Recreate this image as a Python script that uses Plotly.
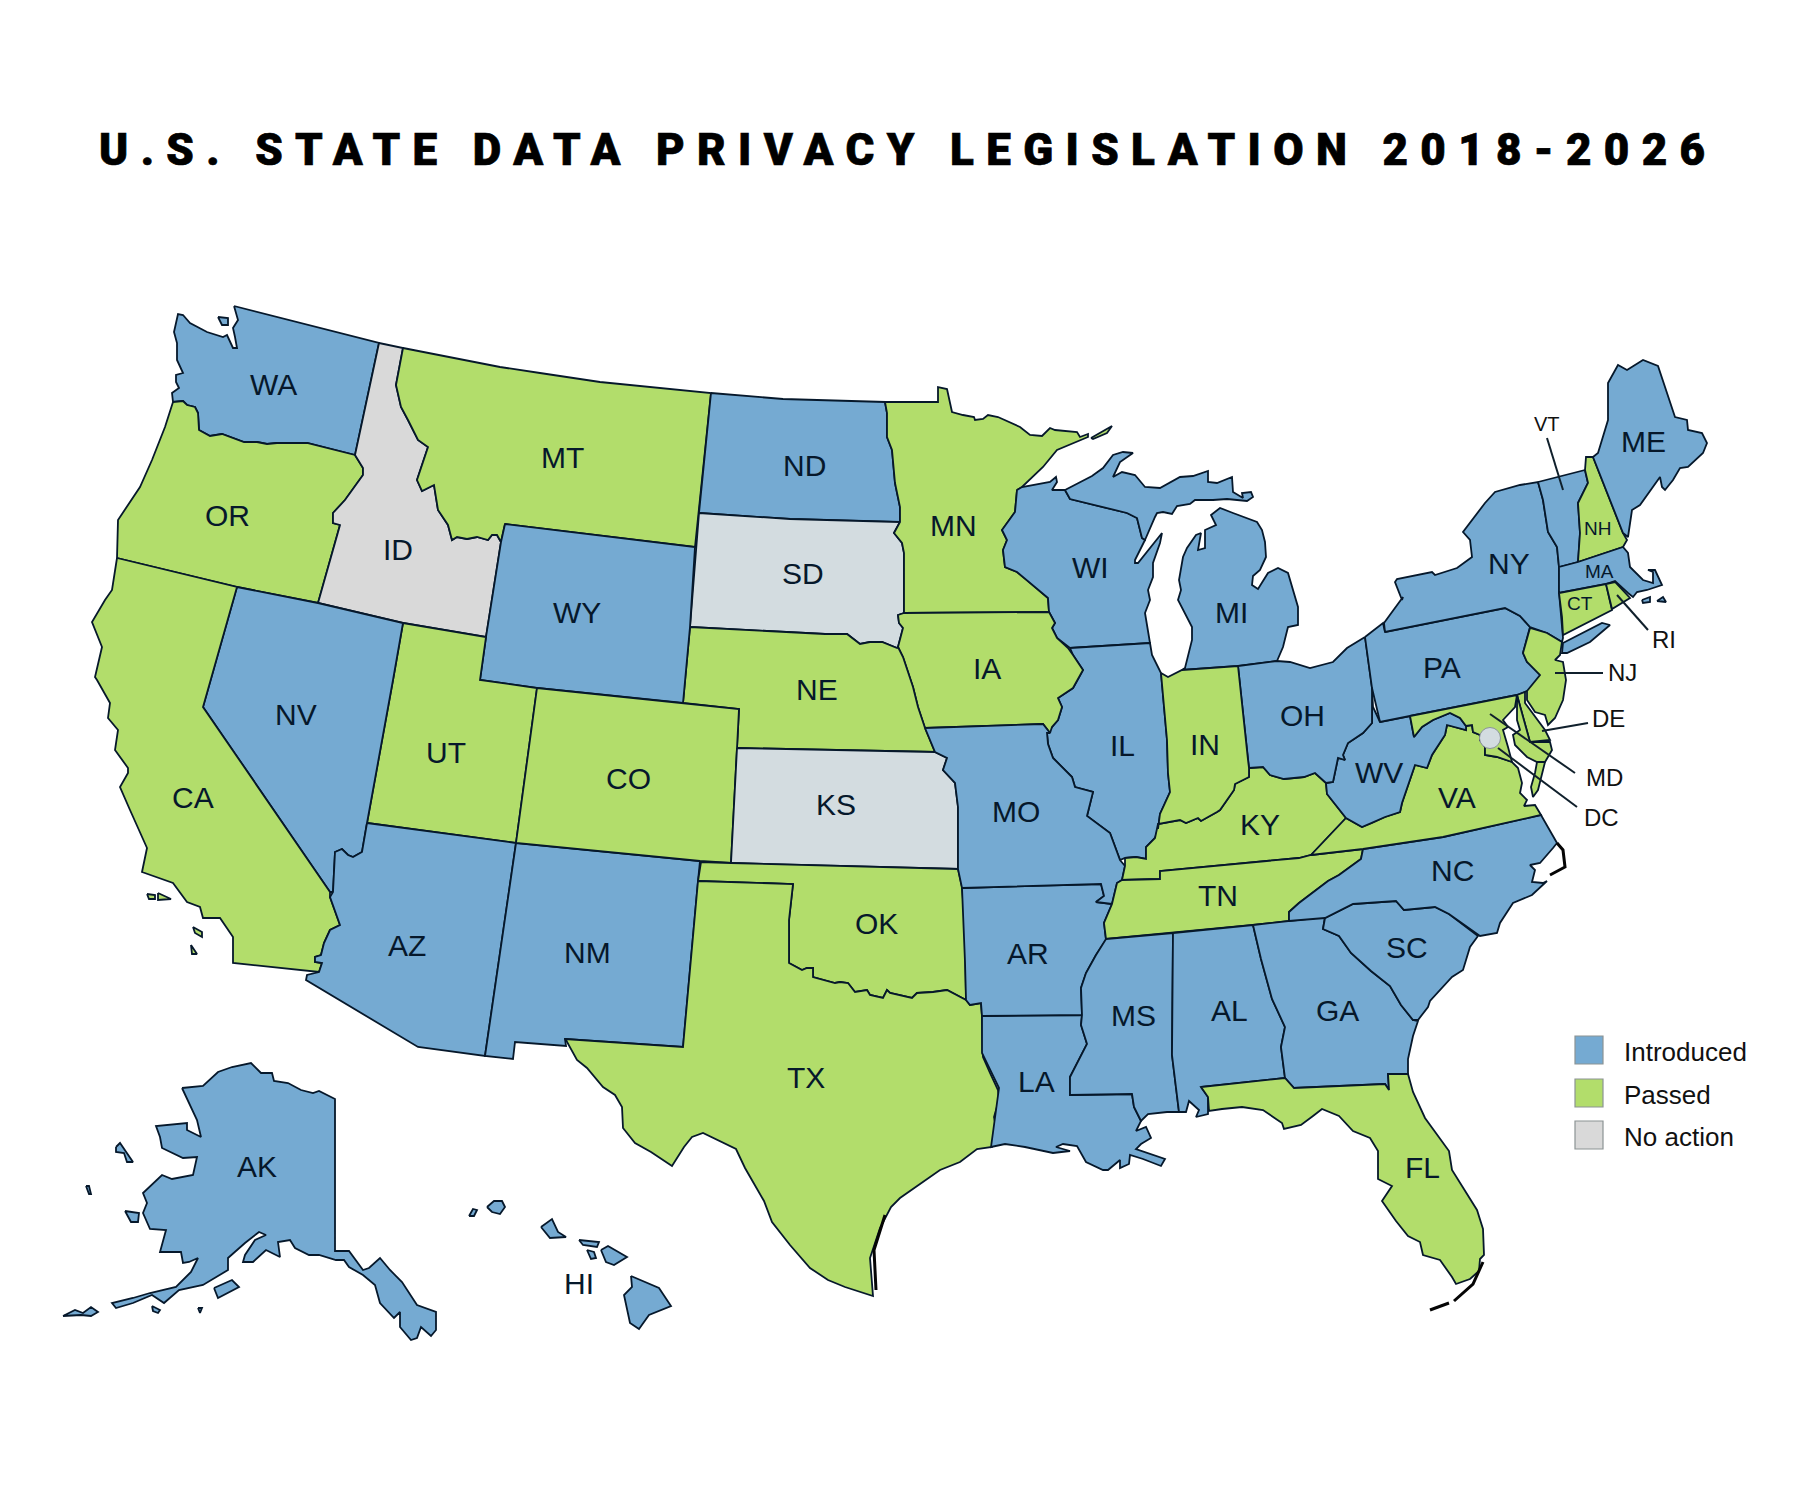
import plotly.graph_objects as go

TITLE = "U.S. STATE DATA PRIVACY LEGISLATION 2018-2026"
STATUS_NAMES = ["Introduced", "Passed", "No action"]
STATUS_COLORS = {"Introduced": "#75aad2", "Passed": "#b2dd6b", "No action": "#d9d9d9"}
ALT_GREY = "#d3dce0"
INK = "#06182b"

INTRODUCED = ["WA","NV","WY","ND","WI","MI","IL","MO","AR","LA","MS","AL","GA","SC","NC","OH","WV","PA","NY","VT","MA","ME","AZ","NM","AK","HI"]
PASSED = ["OR","CA","MT","UT","CO","NE","MN","IA","IN","KY","TN","TX","OK","FL","VA","MD","DE","NJ","CT","RI","NH"]
NO_ACTION = ["ID","SD","KS"]

# Outlines, in picture pixels
WA = [[(234,306),(379,343),(355,455),(307,443),(277,443),(267,444),(257,442),(244,442),(222,434),(210,436),(199,430),(198,413),(195,407),(187,405),(183,401),(173,402),(172,393),(179,388),(176,382),(176,375),(183,373),(177,360),(177,343),(174,332),(178,314),(183,315),(190,323),(207,332),(223,337),(227,335),(233,348),(237,348),(235,337),(233,328),(238,320)],
      [(218,317),(228,318),(228,325),(222,325)]]
OR = [[(173,402),(183,401),(187,405),(195,407),(198,413),(199,430),(210,436),(222,434),(244,442),(257,442),(267,444),(277,443),(307,443),(355,455),(363,468),(363,475),(345,500),(333,513),(333,523),(340,525),(318,603),(237,587),(117,558),(118,520),(140,487),(152,460),(165,427)]]
ID = [[(379,343),(403,348),(396,385),(401,407),(408,420),(418,440),(428,447),(417,480),(422,491),(434,485),(438,510),(448,525),(452,540),(457,537),(467,539),(477,537),(488,540),(492,535),(497,535),(501,542),(486,637),(403,623),(318,603),(340,525),(333,523),(333,513),(345,500),(363,475),(363,468),(355,455)]]
MT = [[(403,348),(500,367),(540,373),(600,382),(711,393),(695,547),(505,524),(501,542),(497,535),(492,535),(488,540),(477,537),(467,539),(457,537),(452,540),(448,525),(438,510),(434,485),(422,491),(417,480),(428,447),(418,440),(408,420),(401,407),(396,385)]]
ND = [[(711,393),(783,399),(885,402),(887,413),(887,437),(892,450),(895,483),(900,507),(900,522),(790,519),(699,513)]]
SD = [[(699,513),(790,519),(900,522),(894,533),(902,543),(904,553),(904,613),(898,615),(899,623),(903,628),(898,647),(897,648),(882,642),(870,642),(860,644),(847,634),(825,634),(690,627)]]
MN = [[(885,402),(938,402),(938,387),(947,389),(952,412),(963,415),(974,417),(975,420),(983,419),(988,415),(998,417),(1020,427),(1030,435),(1042,436),(1050,428),(1055,430),(1077,432),(1080,437),(1088,434),(1088,437),(1057,450),(1043,467),(1022,487),(1017,490),(1015,512),(1002,530),(1007,540),(1003,550),(1005,567),(1017,572),(1027,580),(1048,598),(1049,612),(904,613),(904,553),(902,543),(894,533),(900,522),(900,507),(895,483),(892,450),(887,437),(887,413)],
      [(1091,438),(1112,426),(1107,433),(1093,439)]]
WI = [[(1017,490),(1022,487),(1050,482),(1056,477),(1057,482),(1052,490),(1065,490),(1070,499),(1127,513),(1137,518),(1142,538),(1145,540),(1135,560),(1135,563),(1138,563),(1162,533),(1160,543),(1153,563),(1153,577),(1148,590),(1150,600),(1145,613),(1150,643),(1070,648),(1057,638),(1052,628),(1055,623),(1049,612),(1048,598),(1027,580),(1017,572),(1005,567),(1003,550),(1007,540),(1002,530),(1015,512)]]
MI = [[(1065,490),(1078,483),(1092,476),(1103,468),(1113,455),(1123,452),(1133,453),(1120,462),(1113,477),(1122,472),(1135,475),(1145,487),(1160,488),(1180,477),(1193,476),(1208,471),(1208,482),(1217,483),(1232,477),(1233,492),(1243,498),(1242,493),(1251,492),(1253,497),(1247,501),(1227,499),(1213,500),(1195,500),(1190,504),(1177,506),(1172,514),(1163,512),(1157,513),(1155,517),(1145,540),(1142,538),(1137,518),(1127,513),(1070,499)],
      [(1182,670),(1238,666),(1277,661),(1283,647),(1288,627),(1298,625),(1298,607),(1288,573),(1278,568),(1268,573),(1258,589),(1252,585),(1253,576),(1260,570),(1266,557),(1265,542),(1262,530),(1257,522),(1233,513),(1220,508),(1211,515),(1216,525),(1205,530),(1205,548),(1198,550),(1201,533),(1196,535),(1187,548),(1183,557),(1179,580),(1181,590),(1178,600),(1192,627),(1192,640),(1185,668)]]
IL = [[(1070,648),(1150,643),(1152,655),(1161,673),(1167,740),(1168,773),(1170,792),(1160,814),(1158,829),(1155,838),(1146,847),(1146,859),(1136,857),(1125,858),(1120,860),(1115,847),(1110,833),(1087,816),(1093,792),(1075,787),(1072,777),(1053,758),(1048,744),(1047,733),(1052,727),(1058,720),(1062,707),(1058,698),(1073,688),(1083,670),(1073,655)]]
IA = [[(904,613),(1049,612),(1055,623),(1052,628),(1057,638),(1068,648),(1073,655),(1083,670),(1073,688),(1058,698),(1062,707),(1058,720),(1052,727),(1050,733),(1043,724),(925,728),(918,707),(913,687),(903,657),(898,647),(903,628),(899,623),(898,615)]]
NE = [[(690,627),(825,634),(847,634),(860,644),(870,642),(882,642),(897,648),(898,647),(903,657),(913,687),(918,707),(925,728),(935,752),(737,748),(739,709),(683,703)]]
WY = [[(505,524),(695,547),(690,627),(683,703),(537,688),(480,680),(486,637),(501,542)]]
UT = [[(403,623),(486,637),(480,680),(537,688),(516,843),(367,823),(393,680)]]
NV = [[(237,587),(318,603),(403,623),(393,680),(367,823),(362,852),(353,857),(348,855),(342,849),(335,852),(333,892),(330,892),(203,707)]]
CA = [[(117,558),(237,587),(203,707),(330,892),(330,897),(340,925),(330,930),(324,943),(321,955),(315,957),(315,962),(322,963),(319,972),(233,963),(233,937),(220,918),(203,918),(200,907),(187,902),(173,883),(142,872),(147,848),(130,810),(120,787),(128,773),(128,768),(115,750),(118,730),(108,718),(110,703),(97,680),(95,677),(102,647),(92,622),(105,600),(112,590)],
      [(147,894),(155,895),(155,899),(149,899)],
      [(158,893),(171,899),(158,900)],
      [(193,927),(202,932),(202,937),(195,933)],
      [(191,945),(197,954),(192,954)]]
AZ = [[(367,823),(516,843),(485,1056),(418,1047),(306,980),(307,975),(319,972),(322,963),(315,962),(315,957),(321,955),(324,943),(330,930),(340,925),(330,897),(333,892),(335,852),(342,849),(348,855),(353,857),(362,852)]]
NM = [[(516,843),(700,861),(698,881),(683,1047),(565,1039),(566,1046),(515,1042),(513,1059),(485,1056)]]
CO = [[(537,688),(683,703),(739,709),(737,748),(731,863),(700,861),(516,843)]]
KS = [[(737,748),(935,752),(947,758),(943,770),(955,783),(958,807),(958,869),(731,863)]]
OK = [[(701,862),(731,863),(958,869),(962,887),(965,927),(966,1000),(947,990),(933,992),(917,993),(912,998),(890,993),(887,990),(883,998),(870,995),(867,990),(855,992),(848,983),(840,982),(835,983),(813,977),(813,968),(807,968),(802,970),(789,963),(789,920),(793,884),(698,881)]]
TX = [[(698,881),(793,884),(789,920),(789,963),(802,970),(807,968),(813,968),(813,977),(835,983),(840,982),(848,983),(855,992),(867,990),(870,995),(883,998),(887,990),(890,993),(912,998),(917,993),(933,992),(947,990),(966,1000),(970,1005),(981,1003),(982,1017),(983,1057),(990,1073),(998,1090),(999,1100),(994,1117),(996,1127),(992,1147),(977,1149),(960,1162),(940,1170),(920,1184),(900,1198),(891,1207),(880,1228),(870,1258),(873,1296),(845,1287),(828,1280),(810,1268),(790,1245),(772,1222),(764,1201),(745,1168),(736,1149),(703,1133),(692,1137),(684,1147),(672,1166),(651,1152),(635,1143),(623,1128),(622,1107),(615,1095),(603,1087),(587,1068),(577,1060),(566,1040),(565,1039),(683,1047)]]
LA = [[(982,1016),(1082,1015),(1081,1025),(1087,1044),(1070,1077),(1070,1095),(1132,1094),(1134,1107),(1141,1121),(1136,1131),(1146,1127),(1151,1138),(1141,1144),(1136,1149),(1165,1159),(1161,1166),(1143,1159),(1130,1155),(1129,1164),(1120,1168),(1120,1160),(1108,1170),(1103,1170),(1086,1162),(1077,1146),(1063,1144),(1056,1147),(1070,1151),(1053,1153),(1025,1147),(1005,1144),(991,1147),(994,1125),(999,1088),(982,1053)]]
AR = [[(962,888),(1101,884),(1104,896),(1096,902),(1112,904),(1104,923),(1106,940),(1096,955),(1086,973),(1081,988),(1082,1015),(982,1016),(981,1003),(970,1005),(966,1000),(965,962)]]
MO = [[(925,728),(1043,724),(1050,733),(1047,733),(1048,744),(1053,758),(1072,777),(1075,787),(1093,792),(1087,816),(1110,833),(1115,847),(1120,860),(1125,866),(1122,880),(1117,883),(1112,904),(1096,902),(1104,896),(1101,884),(962,888),(958,869),(958,807),(955,783),(943,770),(947,758),(935,752)]]
KY = [[(1125,858),(1136,857),(1146,859),(1146,847),(1155,838),(1158,824),(1180,820),(1186,823),(1198,818),(1201,821),(1217,812),(1220,810),(1234,790),(1235,784),(1249,777),(1249,768),(1263,767),(1270,775),(1284,779),(1304,777),(1315,773),(1326,783),(1327,794),(1346,818),(1327,838),(1311,855),(1299,858),(1160,871),(1160,879),(1122,880),(1125,866)]]
TN = [[(1122,880),(1160,879),(1160,871),(1299,858),(1311,855),(1363,849),(1361,859),(1349,868),(1339,875),(1328,881),(1299,903),(1289,912),(1289,921),(1253,925),(1173,933),(1106,939),(1104,923),(1112,904),(1117,883)]]
MS = [[(1106,939),(1173,933),(1172,1055),(1179,1112),(1167,1112),(1148,1114),(1141,1121),(1134,1107),(1132,1094),(1070,1095),(1070,1077),(1087,1044),(1081,1025),(1082,1015),(1081,988),(1086,973),(1096,955)]]
AL = [[(1173,933),(1253,925),(1261,959),(1272,999),(1285,1027),(1281,1047),(1285,1078),(1201,1087),(1208,1097),(1208,1114),(1196,1117),(1199,1110),(1189,1101),(1186,1112),(1179,1112),(1172,1055)]]
GA = [[(1253,925),(1289,921),(1325,917),(1323,929),(1339,936),(1351,953),(1371,971),(1390,986),(1401,1005),(1413,1020),(1418,1021),(1413,1036),(1408,1059),(1408,1074),(1388,1074),(1389,1090),(1385,1084),(1294,1088),(1285,1078),(1281,1047),(1285,1027),(1272,999),(1261,959)]]
SC = [[(1325,918),(1353,904),(1396,901),(1404,910),(1435,907),(1449,914),(1478,936),(1470,947),(1463,970),(1452,977),(1430,1001),(1428,1007),(1418,1020),(1413,1020),(1401,1005),(1390,986),(1371,971),(1351,953),(1339,936),(1323,929)]]
NC = [[(1363,849),(1443,837),(1541,815),(1557,843),(1553,848),(1540,863),(1530,865),(1535,870),(1532,882),(1543,883),(1547,881),(1532,895),(1513,903),(1500,923),(1497,933),(1480,936),(1449,914),(1435,907),(1404,910),(1396,901),(1353,904),(1325,918),(1289,921),(1289,912),(1299,903),(1328,881),(1339,875),(1349,868),(1361,859)]]
VA = [[(1346,818),(1362,827),(1372,823),(1385,817),(1400,812),(1402,803),(1415,765),(1427,768),(1432,755),(1445,735),(1447,725),(1466,730),(1466,726),(1472,725),(1473,732),(1480,735),(1480,740),(1485,747),(1485,755),(1497,757),(1512,762),(1518,768),(1522,783),(1520,793),(1527,800),(1524,806),(1535,805),(1541,815),(1443,837),(1363,849),(1311,855),(1327,838)],
      [(1545,762),(1540,780),(1538,790),(1533,797),(1531,787),(1535,773),(1537,762)]]
WV = [[(1380,722),(1410,716),(1414,737),(1422,727),(1433,720),(1450,713),(1460,718),(1466,726),(1466,730),(1447,725),(1445,735),(1432,755),(1427,768),(1415,765),(1402,803),(1400,812),(1385,817),(1372,823),(1362,827),(1346,818),(1327,794),(1326,783),(1333,782),(1338,758),(1345,760),(1343,755),(1348,743),(1363,733),(1372,723),(1372,688),(1373,707)]]
OH = [[(1365,637),(1347,648),(1333,662),(1310,668),(1290,662),(1277,661),(1238,666),(1248,760),(1249,768),(1263,767),(1270,775),(1284,779),(1304,777),(1315,773),(1326,783),(1333,782),(1338,758),(1345,760),(1343,755),(1348,743),(1363,733),(1372,723),(1372,688)]]
IN = [[(1161,673),(1168,677),(1182,670),(1238,666),(1248,760),(1249,768),(1249,777),(1235,784),(1234,790),(1220,810),(1217,812),(1201,821),(1198,818),(1186,823),(1180,820),(1158,824),(1158,829),(1160,814),(1170,792),(1168,773),(1167,740)]]
PA = [[(1365,637),(1383,623),(1385,632),(1505,608),(1520,616),(1530,627),(1523,653),(1527,662),(1543,673),(1537,687),(1527,691),(1517,695),(1410,716),(1380,722),(1372,688)]]
NY = [[(1385,632),(1384,623),(1403,597),(1402,600),(1395,582),(1397,579),(1432,572),(1435,575),(1457,568),(1472,557),(1470,540),(1463,532),(1485,503),(1495,492),(1520,485),(1538,482),(1543,500),(1548,532),(1557,547),(1559,567),(1559,592),(1562,630),(1563,638),(1562,642),(1547,633),(1530,627),(1520,616),(1505,608)],
      [(1563,643),(1602,623),(1610,625),(1590,642),(1567,653),(1562,653)]]
VT = [[(1538,482),(1585,470),(1588,483),(1578,503),(1580,533),(1578,562),(1559,567),(1557,547),(1548,532),(1543,500)]]
NH = [[(1585,470),(1586,457),(1593,457),(1623,533),(1627,540),(1623,547),(1578,562),(1580,533),(1578,503),(1588,483)]]
ME = [[(1593,457),(1598,453),(1608,420),(1608,383),(1618,365),(1627,370),(1643,360),(1658,366),(1675,417),(1687,420),(1688,430),(1702,433),(1707,443),(1703,453),(1688,467),(1680,468),(1673,480),(1665,490),(1662,487),(1660,477),(1640,505),(1632,510),(1628,537),(1623,533)]]
MA = [[(1559,567),(1578,562),(1623,547),(1628,553),(1630,567),(1643,580),(1653,583),(1653,572),(1648,570),(1655,570),(1662,585),(1647,590),(1637,592),(1633,597),(1628,593),(1615,581),(1606,584),(1559,593)],
      [(1642,600),(1650,597),(1650,602),(1643,603)],
      [(1657,601),(1663,597),(1666,602)]]
CT = [[(1559,593),(1606,584),(1612,610),(1563,635),(1562,617)]]
RI = [[(1606,584),(1615,582),(1630,598),(1612,609)]]
NJ = [[(1530,628),(1547,633),(1562,642),(1560,655),(1555,660),(1563,662),(1566,680),(1563,700),(1555,718),(1548,725),(1545,715),(1535,712),(1527,700),(1527,691),(1540,675),(1527,662),(1523,653)]]
DE = [[(1517,695),(1525,692),(1525,703),(1535,717),(1545,730),(1550,740),(1530,742)]]
MD = [[(1410,716),(1517,695),(1515,707),(1503,720),(1508,727),(1503,730),(1508,747),(1512,762),(1497,757),(1485,755),(1485,747),(1480,740),(1480,735),(1473,732),(1472,725),(1466,726),(1460,718),(1450,713),(1433,720),(1422,727),(1414,737)],
      [(1517,695),(1530,742),(1550,742),(1552,750),(1545,762),(1537,762),(1527,757),(1520,750),(1515,745),(1513,735),(1520,730),(1517,720)]]
FL = [[(1201,1087),(1285,1078),(1294,1088),(1385,1084),(1389,1090),(1388,1074),(1408,1074),(1413,1092),(1425,1118),(1449,1151),(1452,1170),(1477,1210),(1483,1229),(1484,1255),(1480,1259),(1479,1271),(1470,1279),(1456,1284),(1452,1277),(1440,1260),(1423,1255),(1420,1242),(1408,1236),(1396,1221),(1382,1201),(1392,1186),(1378,1179),(1378,1151),(1370,1138),(1353,1131),(1339,1116),(1322,1109),(1313,1116),(1301,1125),(1284,1129),(1282,1123),(1263,1110),(1242,1107),(1222,1109),(1209,1111),(1208,1097)]]
AK = [[(182,1088),(203,1086),(218,1072),(232,1067),(251,1063),(261,1073),(272,1073),(274,1081),(288,1083),(301,1090),(313,1093),(319,1091),(335,1099),(335,1251),(349,1251),(363,1270),(369,1268),(380,1258),(390,1270),(402,1282),(417,1305),(436,1312),(436,1330),(431,1336),(421,1327),(417,1338),(411,1340),(400,1327),(400,1312),(394,1318),(380,1303),(375,1285),(363,1275),(349,1267),(344,1260),(336,1260),(319,1255),(309,1255),(295,1248),(290,1240),(278,1242),(280,1257),(266,1250),(253,1262),(243,1262),(245,1255),(255,1240),(266,1235),(259,1232),(245,1243),(228,1258),(228,1270),(203,1285),(179,1290),(164,1303),(152,1295),(133,1303),(116,1308),(112,1303),(133,1298),(150,1293),(176,1287),(191,1272),(198,1258),(189,1262),(183,1263),(181,1252),(160,1252),(166,1230),(150,1229),(143,1213),(147,1203),(143,1193),(162,1175),(172,1179),(193,1175),(197,1157),(183,1158),(162,1148),(160,1137),(156,1126),(187,1123),(187,1130),(201,1137),(197,1120),(191,1107)],
      [(125,1211),(139,1213),(138,1222),(131,1222)],
      [(116,1147),(120,1143),(133,1162),(127,1162),(124,1153),(116,1152)],
      [(86,1186),(89,1186),(91,1194),(89,1194)],
      [(214,1288),(232,1280),(239,1287),(218,1298)],
      [(63,1316),(75,1310),(83,1313),(91,1307),(98,1312),(91,1316),(81,1315)],
      [(152,1306),(160,1310),(158,1313),(153,1311)],
      [(198,1308),(202,1308),(200,1313)]]
HI = [[(487,1207),(494,1201),(502,1201),(505,1207),(500,1214),(492,1212)],
      [(469,1216),(473,1209),(477,1210),(474,1216)],
      [(541,1227),(552,1219),(558,1232),(566,1237),(550,1238)],
      [(579,1240),(599,1242),(597,1247),(583,1245)],
      [(587,1250),(594,1252),(596,1258),(591,1259)],
      [(601,1250),(608,1246),(627,1257),(614,1265),(606,1262)],
      [(631,1276),(659,1288),(671,1306),(649,1315),(639,1329),(630,1323),(624,1295),(632,1287)]]

SHAPES = dict(WA=WA,OR=OR,ID=ID,MT=MT,ND=ND,SD=SD,MN=MN,WI=WI,MI=MI,IL=IL,IA=IA,NE=NE,WY=WY,UT=UT,NV=NV,CA=CA,AZ=AZ,NM=NM,CO=CO,KS=KS,OK=OK,TX=TX,LA=LA,AR=AR,MO=MO,KY=KY,TN=TN,MS=MS,AL=AL,GA=GA,SC=SC,NC=NC,VA=VA,WV=WV,OH=OH,IN=IN,PA=PA,NY=NY,VT=VT,NH=NH,ME=ME,MA=MA,CT=CT,RI=RI,NJ=NJ,DE=DE,MD=MD,FL=FL,AK=AK,HI=HI)

COAST_STROKES = [[(1557,843),(1563,850),(1565,867),(1550,875)],
                 [(885,1215),(874,1250),(876,1290)],
                 [(1483,1262),(1473,1284),(1454,1301)],
                 [(1430,1310),(1449,1303)]]

BIG_LABELS = {"WA":(273,384),"OR":(227,515),"ID":(398,549),"MT":(562,457),"ND":(804,465),"WY":(577,612),"SD":(803,573),"NE":(817,689),"MN":(953,525),"IA":(987,668),"WI":(1090,567),"MI":(1231,612),"IL":(1122,745),"IN":(1205,744),"OH":(1302,715),"PA":(1442,667),"NY":(1509,563),"ME":(1643,441),"WV":(1379,772),"VA":(1457,797),"NC":(1452,870),"SC":(1407,947),"GA":(1337,1010),"AL":(1229,1010),"MS":(1133,1015),"LA":(1036,1081),"AR":(1028,953),"TN":(1218,895),"KY":(1260,824),"MO":(1016,811),"FL":(1422,1167),"KS":(836,804),"OK":(876,923),"TX":(806,1077),"CO":(628,778),"NM":(587,952),"UT":(446,752),"NV":(296,714),"CA":(193,797),"AZ":(407,945),"AK":(257,1166),"HI":(579,1283)}
SMALL_LABELS = {"NH":(1597,528),"MA":(1599,571),"CT":(1580,603)}
CALLOUT_LABELS = {"VT":(1547,424),"RI":(1664,639),"NJ":(1622,672),"DE":(1608,718),"MD":(1604,777),"DC":(1601,817)}
LEADERS = [[(1547,438),(1563,490)],[(1617,595),(1648,630)],[(1555,673),(1603,673)],[(1542,731),(1588,723)],[(1490,714),(1575,773)],[(1498,748),(1577,807)]]
DC_POINT = (1490,738)

LEGEND_X = 1589
LEGEND_Y = [1050,1093,1135]
LEGEND_TEXT_X = 1622


def colour(code):
    if code in NO_ACTION:
        return STATUS_COLORS["No action"] if code == "ID" else ALT_GREY
    return STATUS_COLORS["Passed"] if code in PASSED else STATUS_COLORS["Introduced"]


def flatten(parts):
    xs, ys = [], []
    for part in parts:
        closed = list(part) + [part[0]]
        xs += [p[0] for p in closed] + [None]
        ys += [p[1] for p in closed] + [None]
    return xs, ys


fig = go.Figure()
for code, parts in SHAPES.items():
    xs, ys = flatten(parts)
    fig.add_trace(go.Scatter(x=xs, y=ys, mode="lines", fill="toself", fillcolor=colour(code),
                             line=dict(color=INK, width=1.8), name=code, hoverinfo="name", showlegend=False))

for stroke in COAST_STROKES:
    fig.add_trace(go.Scatter(x=[p[0] for p in stroke], y=[p[1] for p in stroke], mode="lines",
                             line=dict(color="#050505", width=3), hoverinfo="skip", showlegend=False))
for seg in LEADERS:
    fig.add_trace(go.Scatter(x=[p[0] for p in seg], y=[p[1] for p in seg], mode="lines",
                             line=dict(color="#10202c", width=2), hoverinfo="skip", showlegend=False))

fig.add_trace(go.Scatter(x=[DC_POINT[0]], y=[DC_POINT[1]], mode="markers", name="DC", hoverinfo="name",
                         marker=dict(size=21, color=ALT_GREY, line=dict(color="#8b9499", width=1)), showlegend=False))

fig.add_trace(go.Scatter(x=[LEGEND_X]*3, y=LEGEND_Y, mode="markers", hoverinfo="skip", showlegend=False,
                         marker=dict(symbol="square", size=28, color=[STATUS_COLORS[n] for n in STATUS_NAMES],
                                     line=dict(color="#8c9394", width=1.2))))

ann = []
def label(x, y, text, size, color=INK, anchor="center", family="Liberation Sans"):
    ann.append(dict(x=x, y=y, xref="x", yref="y", text=text, showarrow=False, xanchor=anchor, yanchor="middle",
                    font=dict(family=family, size=size, color=color)))

for code, (x, y) in BIG_LABELS.items():
    label(x, y, code, 30)
for code, (x, y) in SMALL_LABELS.items():
    label(x, y, code, 19)
for code, (x, y) in CALLOUT_LABELS.items():
    label(x, y, code, 20 if code == "VT" else 24, color="#111111")
for name, y in zip(STATUS_NAMES, LEGEND_Y):
    label(LEGEND_TEXT_X, y + 2, name, 26, color="#111111", anchor="left")

ann.append(dict(x=908, y=150, xref="x", yref="y", text=TITLE, showarrow=False, xanchor="center", yanchor="middle",
                font=dict(family="Roboto", size=44, color="#000000", weight=900)))

TRACK_TITLE = """
document.body.style.margin = '0';
(function () {
  var wanted = 1606;
  function track() {
    document.querySelectorAll('.annotation-text').forEach(function (el) {
      if (el.textContent.indexOf('LEGISLATION') < 0) return;
      el.style.letterSpacing = '0px';
      var n = el.textContent.length;
      var w = el.getComputedTextLength();
      el.style.letterSpacing = ((wanted - w) / (n - 1)) + 'px';
      el.style.stroke = '#000';
      el.style.strokeWidth = '0.7px';
    });
  }
  track();
  if (document.fonts && document.fonts.ready) document.fonts.ready.then(track);
})();
"""

fig.update_layout(width=1800, height=1500, margin=dict(l=0, r=0, t=0, b=0), paper_bgcolor="white",
                  plot_bgcolor="white", annotations=ann, showlegend=False,
                  xaxis=dict(range=[0, 1800], visible=False, fixedrange=True),
                  yaxis=dict(range=[1500, 0], visible=False, fixedrange=True))
fig.write_html("out.html", config=dict(displayModeBar=False), post_script=TRACK_TITLE)
